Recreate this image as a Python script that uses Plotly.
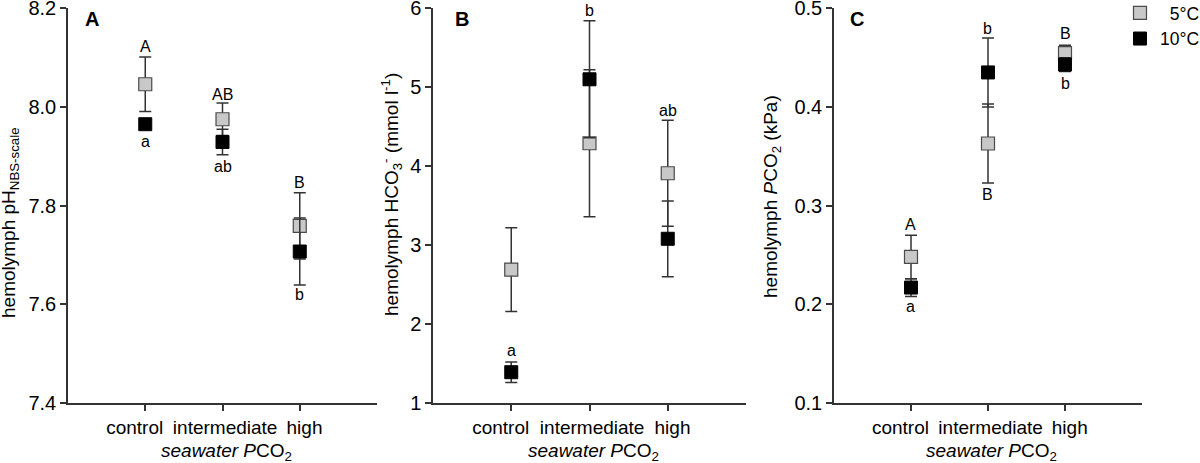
'''
    Hemolymph acid-base parameters at three seawater PCO2 levels, two temperatures.
'''
import plotly.graph_objects as go

categories = ["control", "intermediate", "high"]
# tick texts padded with unicode spaces so the long labels do not collide
tick_labels = ["control\u2007\u2007", "\u2008intermediate", "\u2002high"]

# panel A: hemolymph pH (NBS scale)
ph_5c = [8.046, 7.975, 7.759]
ph_5c_err = [0.055, 0.033, 0.067]
ph_10c = [7.965, 7.929, 7.707]
ph_10c_err = [0.008, 0.026, 0.068]

# panel B: hemolymph HCO3- (mmol l-1)
hco3_5c = [2.69, 4.29, 3.91]
hco3_5c_err = [0.53, 0.93, 0.67]
hco3_10c = [1.39, 5.10, 3.08]
hco3_10c_err = [0.13, 0.74, 0.48]

# panel C: hemolymph PCO2 (kPa)
pco2_5c = [0.248, 0.363, 0.4545]
pco2_5c_err = [0.022, 0.040, 0.008]
pco2_10c = [0.217, 0.435, 0.443]
pco2_10c_err = [0.009, 0.035, 0.007]

# significance letters: text, category, y value
ph_letters = ["A", "a", "AB", "ab", "B", "b"]
ph_letters_x = ["control", "control", "intermediate", "intermediate", "high", "high"]
ph_letters_y = [8.122, 7.930, 8.025, 7.879, 7.846, 7.620]

hco3_letters = ["a", "b", "ab"]
hco3_letters_x = ["control", "intermediate", "high"]
hco3_letters_y = [1.66, 5.97, 4.70]

pco2_letters = ["A", "a", "b", "B", "B", "b"]
pco2_letters_x = ["control", "control", "intermediate", "intermediate", "high", "high"]
pco2_letters_y = [0.281, 0.198, 0.480, 0.311, 0.474, 0.424]

FONT = "Liberation Sans, Arial, sans-serif"
AXIS_COLOR = "#333333"

panels = [
    dict(v5=ph_5c, e5=ph_5c_err, v10=ph_10c, e10=ph_10c_err,
         letters=ph_letters, lx=ph_letters_x, ly=ph_letters_y,
         xdom=[68 / 1200, 377 / 1200], yrange=[7.4, 8.2005], dtick=0.2, fmt=".1f",
         ytitle="hemolymph pH<sub>NBS-scale</sub>", ytx=10, yty=223, tag="A", tagx=92),
    dict(v5=hco3_5c, e5=hco3_5c_err, v10=hco3_10c, e10=hco3_10c_err,
         letters=hco3_letters, lx=hco3_letters_x, ly=hco3_letters_y,
         xdom=[433 / 1200, 746 / 1200], yrange=[1, 6.003], dtick=1, fmt="d",
         ytitle="hemolymph HCO<sub>3</sub><sup>-</sup> (mmol l<sup>-1</sup>)", ytx=391, yty=194,
         tag="B", tagx=462),
    dict(v5=pco2_5c, e5=pco2_5c_err, v10=pco2_10c, e10=pco2_10c_err,
         letters=pco2_letters, lx=pco2_letters_x, ly=pco2_letters_y,
         xdom=[834 / 1200, 1142 / 1200], yrange=[0.1, 0.5003], dtick=0.1, fmt=".1f",
         ytitle="hemolymph <i>P</i>CO<sub>2</sub> (kPa)", ytx=772, yty=197, tag="C", tagx=857),
]

fig = go.Figure()
annotations = []
ydom = [1 - 403 / 463, 1 - 8 / 463]

for i, p in enumerate(panels):
    n = "" if i == 0 else str(i + 1)
    xa, ya = "x" + n, "y" + n

    fig.add_trace(go.Scatter(
        x=categories, y=p["v5"], mode="markers", name="\u20075°C",
        showlegend=(i == 0), xaxis=xa, yaxis=ya,
        error_y=dict(type="data", array=p["e5"], color=AXIS_COLOR, thickness=1.5, width=6),
        marker=dict(symbol="square", size=13, color="#c8c8c8",
                    line=dict(color="#4a4a4a", width=1.2))))
    fig.add_trace(go.Scatter(
        x=categories, y=p["v10"], mode="markers", name="10°C",
        showlegend=(i == 0), xaxis=xa, yaxis=ya,
        error_y=dict(type="data", array=p["e10"], color=AXIS_COLOR, thickness=1.5, width=6),
        marker=dict(symbol="square", size=13, color="black",
                    line=dict(color="black", width=1))))

    fig.update_layout({
        "xaxis" + n: dict(domain=p["xdom"], anchor=ya, type="category", automargin=False,
                          range=[-1, 3], showline=True, linecolor=AXIS_COLOR, linewidth=1.5,
                          tickmode="array", tickvals=categories, ticktext=tick_labels,
                          ticks="outside", ticklen=6, tickwidth=1.5, tickcolor=AXIS_COLOR,
                          tickangle=0, showgrid=False, zeroline=False,
                          tickfont=dict(family=FONT, size=19, color="black")),
        "yaxis" + n: dict(domain=ydom, anchor=xa, range=p["yrange"], dtick=p["dtick"],
                          tick0=p["yrange"][0], automargin=False, ticklabeloverflow="allow",
                          tickformat=p["fmt"], showline=True, linecolor=AXIS_COLOR,
                          linewidth=1.5, ticks="outside", ticklen=6, tickwidth=1.5,
                          tickcolor=AXIS_COLOR, showgrid=False, zeroline=False,
                          tickfont=dict(family=FONT, size=20, color="black")),
    })

    for t, lx, ly in zip(p["letters"], p["lx"], p["ly"]):
        annotations.append(dict(x=lx, y=ly, xref=xa, yref=ya, text=t, showarrow=False,
                                xanchor="center", yanchor="middle",
                                font=dict(family=FONT, size=16, color="black")))

    # axis titles and panel tag
    annotations.append(dict(x=p["ytx"] / 1200, y=1 - p["yty"] / 463, xref="paper", yref="paper",
                            text=p["ytitle"], textangle=-90, showarrow=False,
                            xanchor="center", yanchor="middle",
                            font=dict(family=FONT, size=19, color="black")))
    annotations.append(dict(x="intermediate", y=1 - 452 / 463, xref=xa, yref="paper", xshift=4,
                            text="<i>seawater P</i>CO<sub>2</sub>", showarrow=False,
                            xanchor="center", yanchor="middle",
                            font=dict(family=FONT, size=19, color="black")))
    annotations.append(dict(x=p["tagx"] / 1200, y=1 - 19 / 463, xref="paper", yref="paper",
                            text="<b>" + p["tag"] + "</b>", showarrow=False,
                            xanchor="center", yanchor="middle",
                            font=dict(family=FONT, size=20, color="black")))

fig.update_layout(
    template="none",
    width=1200, height=463, autosize=False,
    margin=dict(l=0, r=0, t=0, b=0, autoexpand=False),
    paper_bgcolor="white", plot_bgcolor="white",
    annotations=annotations,
    legend=dict(x=1 + 5 / 1200, y=1.011, xanchor="right", yanchor="top",
                font=dict(family=FONT, size=17.5, color="black"),
                itemwidth=30, tracegroupgap=0, bgcolor="rgba(0,0,0,0)"),
)

# pin the figure to the window's top-left corner, no page margin and no scrollbars
page_css = ("var s=document.documentElement.style, b=document.body.style;"
            "b.margin='0'; b.overflow='hidden'; s.overflow='hidden';"
            "b.width='1200px'; b.height='463px'; s.width='1200px'; s.height='463px';")
fig.write_html("out.html", config={"displayModeBar": False}, post_script=page_css)
